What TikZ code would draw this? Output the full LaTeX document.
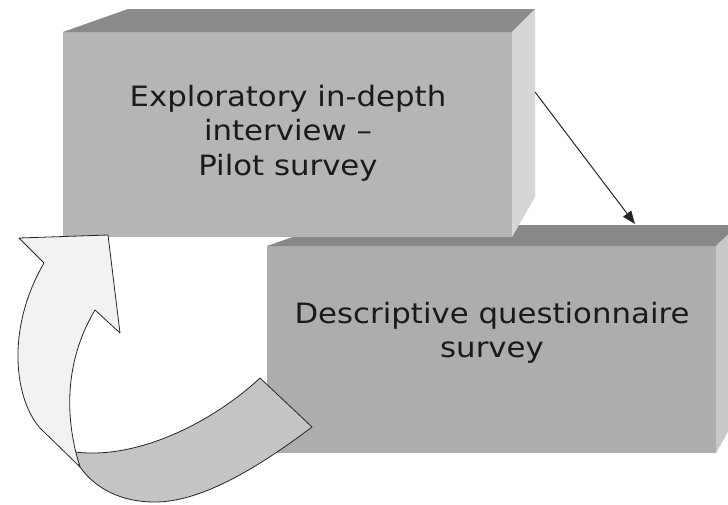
\documentclass[tikz,border=0pt]{standalone}
\usepackage{fontspec}
\setmainfont{DejaVu Sans}[FakeStretch=1.1]
\usetikzlibrary{arrows.meta}
\definecolor{frontA}{HTML}{B5B5B5}
\definecolor{topA}{HTML}{8A8A8A}
\definecolor{sideA}{HTML}{D6D6D6}
\definecolor{frontB}{HTML}{ADADAD}
\definecolor{topB}{HTML}{888888}
\definecolor{sideB}{HTML}{C8C8C8}
\definecolor{bandLight}{HTML}{F2F2F2}
\definecolor{bandDark}{HTML}{C4C4C4}
\definecolor{ink}{HTML}{1A1A1A}
\tikzset{
  label text/.style={align=center, inner sep=0pt, text=ink,
    font=\fontsize{28}{34.5}\selectfont},
  band/.style={draw=black!85, line width=0.8pt, line join=round},
  flow/.style={draw=black!85, line width=1pt,
    -{Triangle[length=13pt,width=10pt]}}
}
\begin{document}
\begin{tikzpicture}[x=1pt,y=-1pt]
\useasboundingbox (0,0) rectangle (728,504);

% lower block: descriptive stage
\fill[frontB] (267,246) rectangle (716,453);
\fill[topB] (267,246) -- (327,225) -- (738,225) -- (716,246) -- cycle;
\fill[sideB] (716,246) -- (738,225) -- (738,414) -- (716,453) -- cycle;

% upper block: exploratory stage
\fill[frontA] (63,32) rectangle (512,237);
\fill[topA] (63,32) -- (128,9) -- (535,9) -- (512,32) -- cycle;
\fill[sideA] (512,32) -- (535,9) -- (535,197) -- (512,237) -- cycle;

\node[label text] (explore) at (288,133)
  {Exploratory in-depth\\interview –\\Pilot survey};
\node[label text] (describe) at (492,333)
  {Descriptive questionnaire\\survey};

% forward step between the two stages
\coordinate (fromTop) at (535,92);
\coordinate (toBottom) at (635,224);
\draw[flow] (fromTop) -- (toBottom);

% feedback loop: twisted curved arrow back to the first stage
\filldraw[band, fill=bandDark]
  (75,452) .. controls (140,460) and (215,420) .. (260,378)
  -- (312,427)
  .. controls (255,470) and (200,502) .. (155,502)
  .. controls (120,502) and (95,488) .. (80,467) -- cycle;
\filldraw[band, fill=bandLight]
  (44,263) -- (19,238) -- (108,235) -- (120,333) -- (95,310)
  .. controls (68,355) and (62,410) .. (80,467)
  -- (40,428)
  .. controls (15,400) and (5,330) .. (44,263) -- cycle;
\end{tikzpicture}
\end{document}
